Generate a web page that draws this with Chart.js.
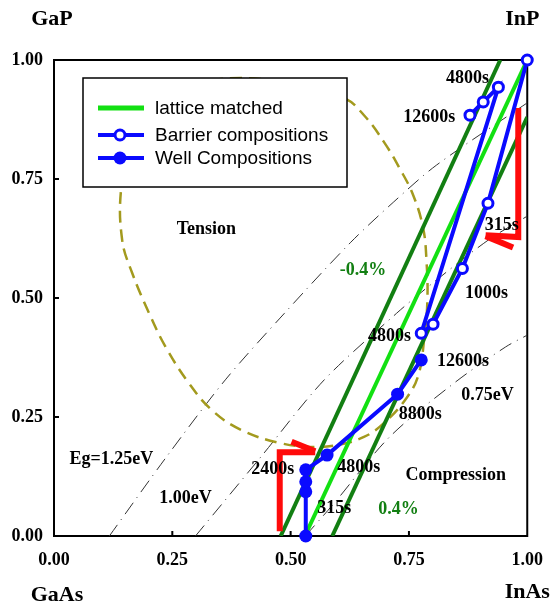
<!DOCTYPE html>
<html>
<head>
<meta charset="utf-8">
<script src="https://cdn.jsdelivr.net/npm/chart.js@4.4.1/dist/chart.umd.min.js"></script>
<style>
  html, body { margin: 0; padding: 0; background: #fff; }
</style>
</head>
<body>
<canvas id="chart" width="557" height="608"></canvas>
<script>
// Values: x = InAs side (GaAs -> InAs), y = P side (-> GaP / InP)
const tickValues = [0, 0.25, 0.5, 0.75, 1.0];

const latticeMatched = [[0.530, 0], [1.0, 1.0]];
const strainMinus04 = [[0.479, 0], [0.943, 1.0]];
const strainPlus04 = [[0.588, 0], [1.0, 0.88]];

const barrierComp = [[0.879, 0.884], [0.907, 0.912], [0.939, 0.943], [0.776, 0.426],
                     [0.801, 0.445], [0.863, 0.562], [0.917, 0.699], [1.0, 1.0]];
const wellComp = [[0.532, 0.0], [0.532, 0.093], [0.532, 0.114], [0.532, 0.139],
                  [0.577, 0.170], [0.726, 0.298], [0.776, 0.370]];

const eg125 = [[0.117, 0], [0.236, 0.164], [0.362, 0.328], [0.487, 0.468],
               [0.626, 0.616], [0.718, 0.702], [0.808, 0.779], [1.0, 0.910]];
const eg100 = [[0.299, 0], [0.437, 0.166], [0.571, 0.328], [0.724, 0.468],
               [0.801, 0.532], [0.918, 0.622], [1.0, 0.672]];
const eg075 = [[0.531, 0], [0.592, 0.069], [0.709, 0.208], [0.849, 0.324],
               [0.954, 0.397], [1.0, 0.422]];

const tensionBoundary = [[0.500, 0.952], [0.613, 0.920], [0.655, 0.884], [0.697, 0.828],
  [0.730, 0.773], [0.759, 0.716], [0.780, 0.647], [0.787, 0.580], [0.789, 0.496],
  [0.782, 0.412], [0.770, 0.338], [0.745, 0.290], [0.697, 0.237], [0.655, 0.208],
  [0.598, 0.191], [0.550, 0.187], [0.479, 0.195], [0.395, 0.223], [0.333, 0.265],
  [0.285, 0.321], [0.236, 0.397], [0.201, 0.468], [0.165, 0.553], [0.144, 0.622],
  [0.142, 0.731], [0.165, 0.840], [0.220, 0.915], [0.300, 0.950], [0.395, 0.962],
  [0.500, 0.952]];

// strain compensation arrows
const arrowLowShaft = [[0.477, 0.01], [0.477, 0.176], [0.552, 0.176]];
const arrowLowWing = [[0.502, 0.198], [0.552, 0.178]];
const arrowHighShaft = [[0.981, 0.899], [0.981, 0.628], [0.912, 0.632]];
const arrowHighWing = [[0.970, 0.606], [0.912, 0.630]];

const colors = {
    lattice: '#12e012',
    strain: '#127f12',
    blue: '#0a0aff',
    red: '#ff0a0a',
    olive: '#a39a1e',
    eg: '#333333'
};

const toXY = arr => arr.map(p => ({ x: p[0], y: p[1] }));

function lineSet(data, color, width, order, extra) {
    return Object.assign({
        data: toXY(data),
        showLine: true,
        borderColor: color,
        backgroundColor: color,
        borderWidth: width,
        pointRadius: 0,
        pointHoverRadius: 0,
        tension: 0,
        order: order
    }, extra || {});
}

// labels placed in data units
const notes = [
    { t: 'Tension', x: 0.322, y: 0.645 },
    { t: '-0.4%', x: 0.653, y: 0.559, c: colors.strain },
    { t: '4800s', x: 0.874, y: 0.962 },
    { t: '12600s', x: 0.793, y: 0.880 },
    { t: '315s', x: 0.946, y: 0.653 },
    { t: '1000s', x: 0.914, y: 0.510 },
    { t: '4800s', x: 0.709, y: 0.420 },
    { t: '12600s', x: 0.864, y: 0.366 },
    { t: '8800s', x: 0.774, y: 0.256 },
    { t: '0.75eV', x: 0.916, y: 0.296 },
    { t: '2400s', x: 0.462, y: 0.141 },
    { t: '4800s', x: 0.644, y: 0.145 },
    { t: 'Compression', x: 0.849, y: 0.128 },
    { t: '315s', x: 0.592, y: 0.059 },
    { t: '0.4%', x: 0.728, y: 0.057, c: colors.strain },
    { t: 'Eg=1.25eV', x: 0.121, y: 0.162 },
    { t: '1.00eV', x: 0.278, y: 0.080 }
];

const serif = "'Liberation Serif', 'Times New Roman', serif";
const sans = "'Liberation Sans', Arial, sans-serif";

const framePlugin = {
    id: 'frame',
    beforeDatasetsDraw(chart) {
        const { ctx, chartArea: a, scales } = chart;
        ctx.save();
        ctx.strokeStyle = '#000';
        ctx.lineWidth = 2;
        ctx.strokeRect(a.left, a.top, a.right - a.left, a.bottom - a.top);
        // inward tick marks
        [0.25, 0.5, 0.75].forEach(v => {
            const px = scales.x.getPixelForValue(v);
            const py = scales.y.getPixelForValue(v);
            ctx.beginPath();
            ctx.moveTo(px, a.bottom); ctx.lineTo(px, a.bottom - 5);
            ctx.moveTo(a.left, py); ctx.lineTo(a.left + 5, py);
            ctx.stroke();
        });
        ctx.restore();
    },
    afterDatasetsDraw(chart) {
        const { ctx, chartArea: a, scales } = chart;
        ctx.save();
        ctx.textAlign = 'center';
        ctx.textBaseline = 'middle';
        ctx.font = 'bold 18px ' + serif;
        notes.forEach(n => {
            ctx.fillStyle = n.c || '#000';
            ctx.fillText(n.t, scales.x.getPixelForValue(n.x), scales.y.getPixelForValue(n.y));
        });

        // corner compound names
        ctx.fillStyle = '#000';
        ctx.font = 'bold 22px ' + serif;
        ctx.fillText('GaP', a.left - 2, 19);
        ctx.fillText('InP', a.right - 5, 19);
        ctx.fillText('GaAs', a.left + 3, 595);
        ctx.fillText('InAs', a.right, 592);

        // legend box
        const bx = 83, by = 78, bw = 264, bh = 109;
        ctx.fillStyle = '#fff';
        ctx.fillRect(bx, by, bw, bh);
        ctx.strokeStyle = '#000';
        ctx.lineWidth = 1.5;
        ctx.strokeRect(bx, by, bw, bh);

        const rows = [
            { label: 'lattice matched', color: colors.lattice, y: 108, w: 5, marker: null },
            { label: 'Barrier compositions', color: colors.blue, y: 135, w: 4, marker: 'open' },
            { label: 'Well Compositions', color: colors.blue, y: 158, w: 4, marker: 'filled' }
        ];
        rows.forEach(r => {
            ctx.strokeStyle = r.color;
            ctx.lineWidth = r.w;
            ctx.beginPath();
            ctx.moveTo(98, r.y); ctx.lineTo(144, r.y);
            ctx.stroke();
            if (r.marker === 'open') {
                ctx.beginPath();
                ctx.arc(120, r.y, 5, 0, Math.PI * 2);
                ctx.fillStyle = '#fff';
                ctx.fill();
                ctx.lineWidth = 3;
                ctx.stroke();
            } else if (r.marker === 'filled') {
                ctx.beginPath();
                ctx.arc(120, r.y, 6.5, 0, Math.PI * 2);
                ctx.fillStyle = r.color;
                ctx.fill();
            }
            ctx.fillStyle = '#000';
            ctx.font = '19px ' + sans;
            ctx.textAlign = 'left';
            ctx.fillText(r.label, 155, r.y + 1);
        });
        ctx.restore();
    }
};

const ctx = document.getElementById('chart').getContext('2d');
new Chart(ctx, {
    type: 'scatter',
    data: {
        datasets: [
            lineSet(eg125, colors.eg, 1, 20, { borderDash: [14, 6, 1, 6], tension: 0.3 }),
            lineSet(eg100, colors.eg, 1, 20, { borderDash: [14, 6, 1, 6], tension: 0.3 }),
            lineSet(eg075, colors.eg, 1, 20, { borderDash: [14, 6, 1, 6], tension: 0.3 }),
            lineSet(tensionBoundary, colors.olive, 2.5, 18, { borderDash: [12, 7], tension: 0.4 }),
            lineSet(strainMinus04, colors.strain, 4, 16),
            lineSet(strainPlus04, colors.strain, 4, 16),
            lineSet(latticeMatched, colors.lattice, 4, 15),
            lineSet(arrowLowShaft, colors.red, 6, 14, { borderJoinStyle: 'miter' }),
            lineSet(arrowLowWing, colors.red, 6, 14),
            lineSet(arrowHighShaft, colors.red, 6, 14, { borderJoinStyle: 'miter' }),
            lineSet(arrowHighWing, colors.red, 6, 14),
            lineSet(barrierComp, colors.blue, 4, 12, {
                pointRadius: 5, pointBorderWidth: 3, pointBackgroundColor: '#fff',
                pointBorderColor: colors.blue, clip: false
            }),
            lineSet(wellComp, colors.blue, 4, 11, {
                pointRadius: 6.5, pointBorderWidth: 0, pointBackgroundColor: colors.blue,
                clip: false
            })
        ]
    },
    options: {
        responsive: false,
        animation: false,
        events: [],
        layout: { padding: { top: 60, right: 25, bottom: 0, left: 0 } },
        plugins: {
            legend: { display: false },
            tooltip: { enabled: false }
        },
        scales: {
            x: {
                type: 'linear',
                min: 0, max: 1,
                afterFit: s => { s.height = 72; },
                afterBuildTicks: s => { s.ticks = tickValues.map(v => ({ value: v })); },
                grid: { display: false, drawTicks: false },
                border: { display: false },
                ticks: {
                    padding: 14,
                    color: '#000',
                    font: { family: serif, size: 18, weight: 'bold' },
                    callback: v => v.toFixed(2)
                }
            },
            y: {
                type: 'linear',
                min: 0, max: 1,
                afterFit: s => { s.width = 54; },
                afterBuildTicks: s => { s.ticks = tickValues.map(v => ({ value: v })); },
                grid: { display: false, drawTicks: false },
                border: { display: false },
                ticks: {
                    padding: 11,
                    color: '#000',
                    font: { family: serif, size: 18, weight: 'bold' },
                    callback: v => v.toFixed(2)
                }
            }
        }
    },
    plugins: [framePlugin]
});
</script>
</body>
</html>
